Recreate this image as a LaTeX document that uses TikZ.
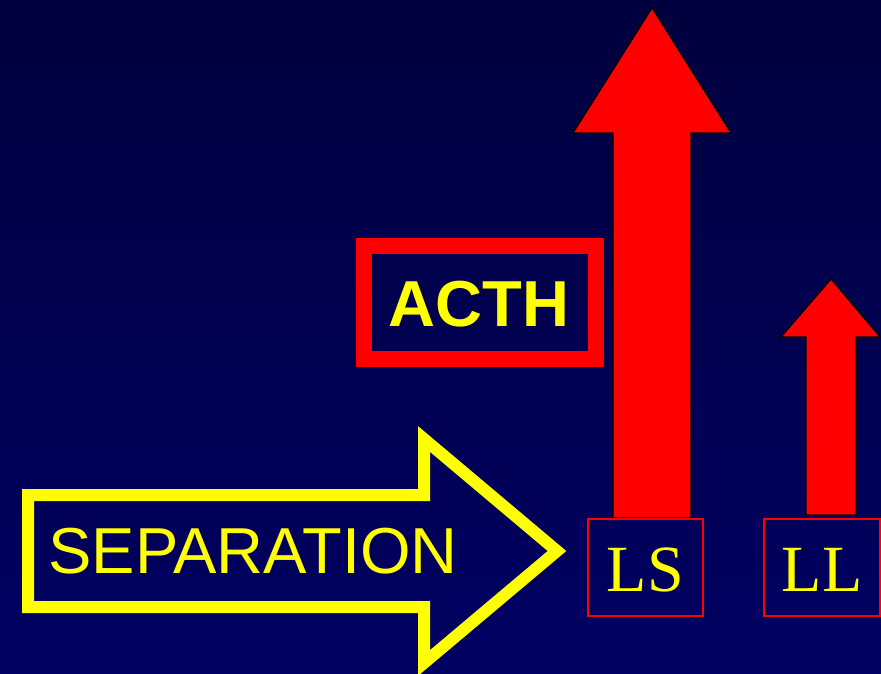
\documentclass[tikz,border=0pt]{standalone}
\usepackage{fontspec}
\setmainfont{Liberation Sans}
\newfontfamily\arialfont{Liberation Sans}
\newfontfamily\serifLS{Liberation Serif}
\definecolor{bgtop}{RGB}{0,0,62}
\definecolor{bgbot}{RGB}{0,0,98}
\definecolor{yel}{RGB}{255,255,0}
\definecolor{redc}{RGB}{255,0,0}
\begin{document}
\begin{tikzpicture}[x=1pt,y=-1pt,
  uparrow/.style={fill=redc,draw=black,line width=1.2pt,line join=miter},
  labelbox/.style={draw=redc,line width=2pt,fill=none},
  seplabel/.style={text=yel,inner sep=0pt,font=\arialfont\fontsize{65}{65}\selectfont},
  acthlabel/.style={text=yel,inner sep=0pt,font=\arialfont\bfseries\fontsize{65}{65}\selectfont},
  boxlabel/.style={text=yel,inner sep=0pt,font=\serifLS\fontsize{66}{66}\selectfont}]
\useasboundingbox (0,0) rectangle (881,674);
\shade[top color=bgtop,bottom color=bgbot] (0,0) rectangle (881,674);
% big red arrow
\draw[uparrow] (613,518) -- (613,133) -- (573,133) -- (652,8) -- (731,133) -- (691,133) -- (691,518) -- cycle;
% small red arrow
\draw[uparrow] (806,515) -- (806,337) -- (781,337) -- (831,279) -- (880,337) -- (856,337) -- (856,515) -- cycle;
% LS / LL boxes
\draw[labelbox] (588,519) rectangle (703,616);
\draw[labelbox] (764,519) rectangle (880,616);
\node[boxlabel] (ls) at (645.5,570) {LS};
\node[boxlabel] (ll) at (822,570) {LL};
% ACTH box
\draw[draw=redc,line width=16pt] (364,246) rectangle (596,359);
\node[acthlabel] (acth) at (479,304) {ACTH};
% separation arrow
\draw[draw=yel,line width=12pt,line join=miter,miter limit=10]
  (28,495) -- (424,495) -- (424,439) -- (557,551) -- (424,663) -- (424,607) -- (28,607) -- cycle;
\node[seplabel] (sep) at (253,551) {SEPARATION};
\end{tikzpicture}
\end{document}
